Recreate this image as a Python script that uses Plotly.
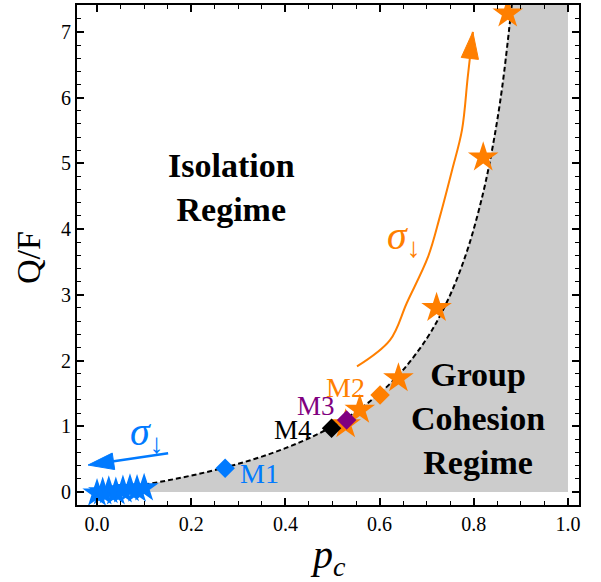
import plotly.graph_objects as go

# ---- data ----
curve_pc = [0.0, 0.05, 0.1, 0.15, 0.2, 0.25, 0.3, 0.35, 0.4, 0.45, 0.5, 0.55,
            0.6, 0.65, 0.7, 0.73, 0.76, 0.79, 0.82, 0.84, 0.86, 0.885]
curve_qf = [0.0, 0.053, 0.111, 0.176, 0.25, 0.333, 0.429, 0.538, 0.667, 0.818,
            1.0, 1.222, 1.5, 1.857, 2.333, 2.704, 3.167, 3.762, 4.556, 5.25,
            6.143, 7.70]

blue_pc = [0.0, 0.012, 0.025, 0.04, 0.055, 0.07, 0.085, 0.1]
blue_qf = [-0.02, 0.0, 0.02, 0.0, 0.03, 0.05, 0.04, 0.06]

orange_pc = [0.528, 0.558, 0.640, 0.721, 0.820, 0.872]
orange_qf = [1.03, 1.25, 1.73, 2.80, 5.09, 7.28]

models = ["M1", "M2", "M3", "M4"]
model_pc = [0.272, 0.601, 0.530, 0.498]
model_qf = [0.36, 1.476, 1.096, 0.97]

orange_arrow_pc = [0.552, 0.622, 0.658, 0.703, 0.728, 0.754, 0.775, 0.787, 0.798]
orange_arrow_qf = [1.91, 2.31, 2.88, 3.58, 4.19, 4.90, 5.51, 6.30, 7.00]

blue_arrow_pc = [0.151, -0.019]
blue_arrow_qf = [0.59, 0.41]

x_range = [-0.0425, 1.0234]
y_range = [-0.198, 7.41]
x_ticks = [0.0, 0.2, 0.4, 0.6, 0.8, 1.0]
x_ticklabels = ["0.0", "0.2", "0.4", "0.6", "0.8", "1.0"]
y_ticks = [0, 1, 2, 3, 4, 5, 6, 7]

# ---- styles ----
ORANGE = "rgb(255,127,0)"
BLUE = "rgb(0,122,255)"
PURPLE = "rgb(128,0,128)"
BLACK = "black"
GRAY = "rgb(204,204,204)"
model_colors = [BLUE, ORANGE, PURPLE, BLACK]
FONT = "Liberation Serif, Times New Roman, serif"

fig = go.Figure()

# gray region (right of the boundary curve, above Q/F = 0, up to p_c = 1)
fig.add_trace(go.Scatter(
    x=curve_pc + [1.0, 1.0],
    y=curve_qf + [curve_qf[-1], 0.0],
    fill="toself", fillcolor=GRAY, mode="lines",
    line=dict(width=0), hoverinfo="skip", showlegend=False))

# dashed boundary curve
fig.add_trace(go.Scatter(
    x=curve_pc, y=curve_qf, mode="lines",
    line=dict(color=BLACK, width=2, dash="5px,3px", shape="spline"),
    showlegend=False))

# orange curved arrow (shaft + head)
fig.add_trace(go.Scatter(
    x=orange_arrow_pc, y=orange_arrow_qf, mode="lines+markers",
    line=dict(color=ORANGE, width=2, shape="spline"),
    marker=dict(symbol="arrow", angleref="previous", opacity=1,
                size=[0] * (len(orange_arrow_pc) - 1) + [28], color=ORANGE,
                line=dict(width=1, color=ORANGE)),
    showlegend=False))

# blue straight arrow
fig.add_trace(go.Scatter(
    x=blue_arrow_pc, y=blue_arrow_qf, mode="lines+markers",
    line=dict(color=BLUE, width=2.5),
    marker=dict(symbol="arrow", angleref="previous", opacity=1,
                size=[0, 27], color=BLUE, line=dict(width=1, color=BLUE)),
    showlegend=False))

# stars
fig.add_trace(go.Scatter(
    x=blue_pc, y=blue_qf, mode="markers",
    marker=dict(symbol="star", size=22, color=BLUE, line=dict(width=0)),
    showlegend=False))
fig.add_trace(go.Scatter(
    x=orange_pc, y=orange_qf, mode="markers",
    marker=dict(symbol="star", size=23, color=ORANGE, line=dict(width=0)),
    showlegend=False))

# model diamonds
for name, px, py, col in zip(models, model_pc, model_qf, model_colors):
    fig.add_trace(go.Scatter(
        x=[px], y=[py], mode="markers", name=name,
        marker=dict(symbol="diamond", size=15, color=col, line=dict(width=0)),
        showlegend=False))

# ---- annotations ----
L, R, T, B = 77, 579, 5, 505
W, H = R - L, B - T


def pp(px, py):
    return (px - L) / W, (B - py) / H


def add_text(text, px, py, size, color=BLACK, angle=0, height=None):
    x, y = pp(px, py)
    fig.add_annotation(x=x, y=y, xref="paper", yref="paper", text=text,
                       showarrow=False, xanchor="center", yanchor="middle",
                       textangle=angle, height=height,
                       font=dict(family=FONT, size=size, color=color))


add_text("<b>Isolation<br>Regime</b>", 231, 187, 34)
add_text("<b>Group<br>Cohesion<br>Regime</b>", 478, 418, 34)
add_text("M1", 259, 473, 28, BLUE)
add_text("M2", 345, 387, 28, ORANGE)
add_text("M3", 316, 406, 27, PURPLE, height=22)
add_text("M4", 293, 430, 27, BLACK, height=22)
add_text("<i>σ</i><sub>↓</sub>", 404, 238, 40, ORANGE)
add_text("<i>σ</i><sub>↓</sub>", 147, 434, 40, BLUE)
# axis titles
add_text("<i>p</i><sub><i>c</i></sub>", 328, 557, 40)
add_text("Q/F", 28, 258, 34, angle=-90)

axis_common = dict(
    showline=True, linecolor=BLACK, linewidth=2, mirror="allticks",
    ticks="inside", ticklen=7, tickwidth=1.5, tickcolor=BLACK,
    showgrid=False, zeroline=False, automargin=False,
    tickfont=dict(family=FONT, size=20, color=BLACK),
)

fig.update_layout(
    width=601, height=582,
    margin=dict(l=L, r=601 - R, t=T, b=582 - B, autoexpand=False),
    paper_bgcolor="white", plot_bgcolor="white",
    showlegend=False,
    xaxis=dict(range=x_range, tickvals=x_ticks, ticktext=x_ticklabels,
               minor=dict(ticks="inside", ticklen=4, tickwidth=1.2,
                          tickcolor=BLACK, dtick=0.05, tick0=0, showgrid=False),
               **axis_common),
    yaxis=dict(range=y_range, tickvals=y_ticks,
               minor=dict(ticks="inside", ticklen=4, tickwidth=1.2,
                          tickcolor=BLACK, dtick=0.2, tick0=0, showgrid=False),
               **axis_common),
)

fig.write_html("out.html",
               config={"displayModeBar": False},
               post_script="document.body.style.margin='0';"
                           "document.body.style.overflow='hidden';")
